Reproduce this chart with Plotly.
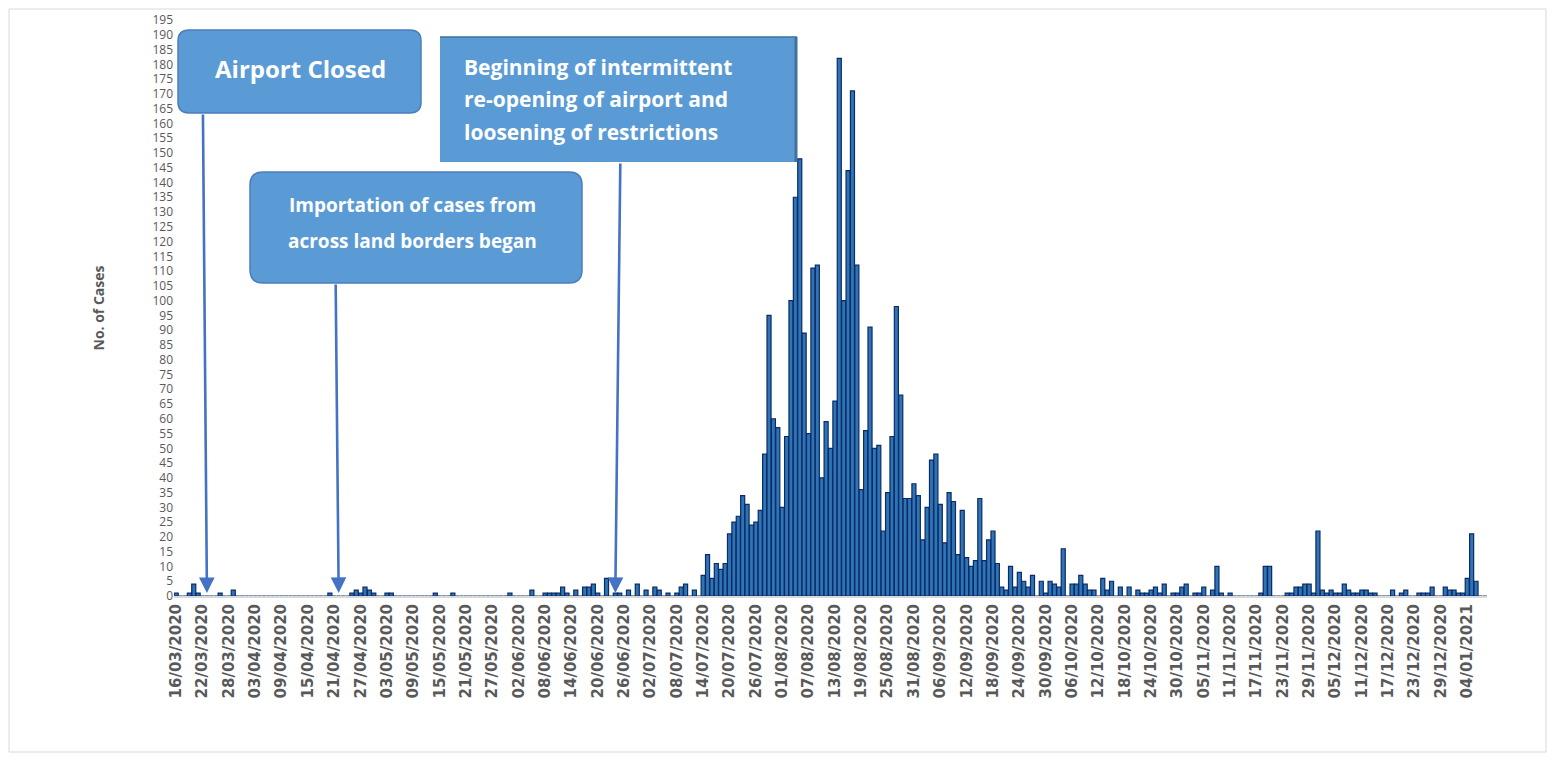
import pandas as pd
import plotly.graph_objects as go

# ---------------- data (daily new cases) ----------------
start_date = "2020-03-16"
end_date = "2021-01-08"

mar_2020 = [1, 0, 0, 1, 4, 1, 0, 0, 0, 0, 1, 0, 0, 2, 0, 0]                     # 16-31 Mar
apr_2020 = [0] * 19 + [1, 0, 0, 0, 0, 1, 2, 1, 3, 2, 1]                           # 1-30 Apr
may_2020 = [0, 0, 1, 1] + [0] * 9 + [1, 0, 0, 0, 1] + [0] * 12 + [1]             # 1-31 May
jun_2020 = [0, 0, 0, 0, 2, 0, 0, 1, 1, 1, 1, 3, 1, 0, 2, 0, 3, 3, 4, 1,
            0, 6, 0, 1, 1, 0, 2, 0, 4, 0]                                          # 1-30 Jun
jul_2020 = [2, 0, 3, 2, 0, 1, 0, 1, 3, 4, 0, 2, 0, 7, 14, 6, 11, 9, 11, 21,
            25, 27, 34, 31, 24, 25, 29, 48, 95, 60, 57]                            # 1-31 Jul
aug_2020 = [30, 54, 100, 135, 148, 89, 55, 111, 112, 40, 59, 50, 66, 182, 100,
            144, 171, 112, 36, 56, 91, 50, 51, 22, 35, 54, 98, 68, 33, 33, 38]     # 1-31 Aug
sep_2020 = [34, 19, 30, 46, 48, 31, 18, 35, 32, 14, 29, 13, 10, 12, 33, 12, 19,
            22, 11, 3, 2, 10, 3, 8, 5, 3, 7, 0, 5, 1]                              # 1-30 Sep
oct_2020 = [5, 4, 3, 16, 0, 4, 4, 7, 4, 2, 2, 0, 6, 2, 5, 0, 3, 0, 3, 0, 2, 1,
            1, 2, 3, 1, 4, 0, 1, 1, 3]                                             # 1-31 Oct
nov_2020 = [4, 0, 1, 1, 3, 0, 2, 10, 1, 0, 1] + [0] * 6 + [1, 10, 10, 0, 0, 0,
            1, 1, 3, 3, 4, 4, 1]                                                   # 1-30 Nov
dec_2020 = [22, 2, 1, 2, 1, 1, 4, 2, 1, 1, 2, 2, 1, 1, 0, 0, 0, 2, 0, 1, 2, 0,
            0, 1, 1, 1, 3, 0, 0, 3, 2]                                             # 1-31 Dec
jan_2021 = [2, 1, 1, 6, 21, 5, 0, 0]                                               # 1-8 Jan

cases = (mar_2020 + apr_2020 + may_2020 + jun_2020 + jul_2020 + aug_2020 +
         sep_2020 + oct_2020 + nov_2020 + dec_2020 + jan_2021)

dates = pd.date_range(start_date, end_date, freq="D")
date_labels = [d.strftime("%d/%m/%Y") for d in dates]
assert len(cases) == len(date_labels), (len(cases), len(date_labels))

tick_labels = date_labels[::6]
y_ticks = list(range(0, 200, 5))

event_airport_closed = "23/03/2020"
event_land_borders = "22/04/2020"
event_reopening = "24/06/2020"

# ---------------- geometry (reference-pixel -> paper) ----------------
# the page body adds an 8px margin, so the figure is offset by 8px in the screenshot
OFF = 8
W, H = 1555 - 2 * OFF, 761 - 2 * OFF
PL, PR, PT, PB = 174, 1487, 20, 596          # plot area in reference pixels


def px(x):
    return (x - PL) / (PR - PL)


def py(y):
    return (PB - y) / (PB - PT)


def rounded_rect(x0, y0, x1, y1, r):
    return (f"M {px(x0 + r)},{py(y0)} L {px(x1 - r)},{py(y0)} "
            f"Q {px(x1)},{py(y0)} {px(x1)},{py(y0 + r)} "
            f"L {px(x1)},{py(y1 - r)} Q {px(x1)},{py(y1)} {px(x1 - r)},{py(y1)} "
            f"L {px(x0 + r)},{py(y1)} Q {px(x0)},{py(y1)} {px(x0)},{py(y1 - r)} "
            f"L {px(x0)},{py(y0 + r)} Q {px(x0)},{py(y0)} {px(x0 + r)},{py(y0)} Z")


BOX_FILL = "#5B9BD5"
ARROW = "#4472C4"
GREY = "#595959"

fig = go.Figure()
fig.add_trace(go.Bar(
    x=date_labels, y=cases,
    marker=dict(color="#2E75B6", line=dict(color="#0B2A66", width=1.2)),
    hoverinfo="x+y",
))

shapes = [
    # outer frame
    dict(type="rect", xref="paper", yref="paper", x0=px(9), x1=px(1546),
         y0=py(752), y1=py(9), line=dict(color="#D9D9D9", width=1), layer="below"),
    # box 1: Airport Closed
    dict(type="path", xref="paper", yref="paper", path=rounded_rect(178, 30, 421, 113, 11),
         fillcolor=BOX_FILL, line=dict(color="#4A7EBB", width=1.5)),
    # box 2: importation
    dict(type="path", xref="paper", yref="paper", path=rounded_rect(250, 172, 582, 283, 13),
         fillcolor=BOX_FILL, line=dict(color="#4A7EBB", width=1.5)),
    # box 3: re-opening
    dict(type="rect", xref="paper", yref="paper", x0=px(440), x1=px(797), y0=py(162), y1=py(37),
         fillcolor=BOX_FILL, line=dict(color=BOX_FILL, width=0)),
    dict(type="line", xref="paper", yref="paper", x0=px(796), x1=px(796), y0=py(162), y1=py(37),
         line=dict(color="#41719C", width=3)),
    dict(type="line", xref="paper", yref="paper", x0=px(440), x1=px(797), y0=py(37), y1=py(37),
         line=dict(color="#41719C", width=1.5)),
]

txt_font = dict(family="Open Sans", color="white", weight="bold")
annotations = [
    dict(xref="paper", yref="paper", x=px(300), y=py(69), text="Airport Closed",
         showarrow=False, xanchor="center", yanchor="middle", font=dict(size=24, **txt_font)),
    dict(xref="paper", yref="paper", x=px(412), y=py(205), text="Importation of cases from",
         showarrow=False, xanchor="center", yanchor="middle", font=dict(size=19, **txt_font)),
    dict(xref="paper", yref="paper", x=px(412), y=py(241), text="across land borders began",
         showarrow=False, xanchor="center", yanchor="middle", font=dict(size=19, **txt_font)),
    dict(xref="paper", yref="paper", x=px(462), y=py(67), text="Beginning of intermittent",
         showarrow=False, xanchor="left", yanchor="middle", font=dict(size=21, **txt_font)),
    dict(xref="paper", yref="paper", x=px(462), y=py(99), text="re-opening of airport and",
         showarrow=False, xanchor="left", yanchor="middle", font=dict(size=21, **txt_font)),
    dict(xref="paper", yref="paper", x=px(462), y=py(132), text="loosening of restrictions",
         showarrow=False, xanchor="left", yanchor="middle", font=dict(size=21, **txt_font)),
]

arrow_style = dict(showarrow=True, text="", arrowhead=2, arrowsize=1.2, arrowwidth=2.6,
                   arrowcolor=ARROW, xref="x", yref="y", axref="pixel", ayref="pixel")
annotations += [
    dict(x=event_airport_closed, y=1, ax=-4, ay=-480, **arrow_style),
    dict(x=event_land_borders, y=1, ax=-3, ay=-310, **arrow_style),
    dict(x=event_reopening, y=1, ax=5, ay=-431, **arrow_style),
]

fig.update_layout(
    width=W, height=H,
    margin=dict(l=PL - OFF, r=W - (PR - OFF), t=PT - OFF, b=H - (PB - OFF)),
    plot_bgcolor="white", paper_bgcolor="white",
    bargap=0.08, showlegend=False,
    shapes=shapes, annotations=annotations,
    xaxis=dict(
        type="category", range=[-0.5, len(date_labels) - 0.5], automargin=False,
        tickmode="array", tickvals=tick_labels, ticktext=tick_labels,
        tickangle=-90, ticks="", showgrid=False,
        showline=True, linecolor="#D9D9D9", linewidth=2,
        tickfont=dict(family="DejaVu Sans", size=15, color=GREY, weight="bold"),
    ),
    yaxis=dict(
        range=[0, 195], tickmode="array", tickvals=y_ticks, automargin=False,
        showgrid=False, zeroline=False, showline=False, ticks="",
        tickfont=dict(family="Open Sans", size=12, color=GREY),
        title=dict(text="No. of Cases", standoff=44,
                   font=dict(family="Open Sans", size=14, color=GREY, weight="bold")),
    ),
)

fig.write_html("out.html")
